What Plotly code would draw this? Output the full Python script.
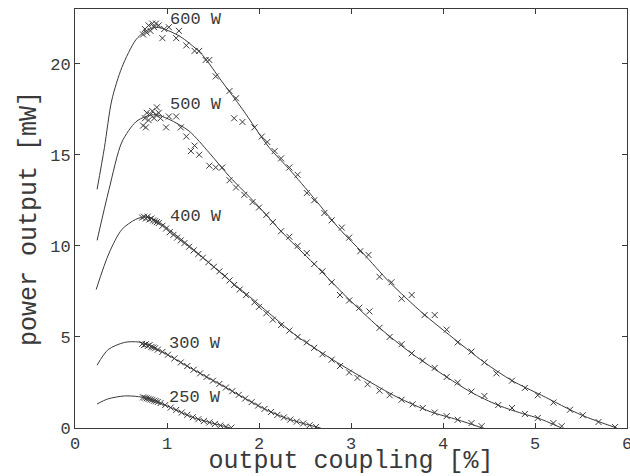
import plotly.graph_objects as go

# ---- model curves ----
c600_x = [0.24, 0.32, 0.40, 0.51, 0.66, 0.77, 0.88, 1.02, 1.17, 1.38, 1.60, 1.82, 2.11, 2.33, 2.60, 2.88, 3.13, 3.42, 3.78, 4.07, 4.45, 4.75, 5.07, 5.51, 5.89]
c600_y = [13.1, 15.4, 18.0, 19.8, 21.3, 21.8, 22.0, 21.8, 21.4, 20.5, 19.0, 17.5, 15.4, 14.2, 12.6, 10.9, 9.6, 8.0, 6.3, 5.1, 3.6, 2.6, 1.8, 0.7, 0.0]

c500_x = [0.24, 0.37, 0.51, 0.66, 0.77, 0.88, 1.02, 1.24, 1.46, 1.68, 1.97, 2.24, 2.60, 2.95, 3.31, 3.67, 4.04, 4.31, 4.60, 4.89, 5.03, 5.29]
c500_y = [10.3, 13.1, 15.7, 16.8, 17.1, 17.2, 16.95, 16.3, 15.1, 13.8, 12.3, 10.8, 9.0, 7.2, 5.5, 4.05, 2.8, 1.95, 1.25, 0.75, 0.55, 0.0]

c400_x = [0.23, 0.37, 0.51, 0.66, 0.77, 0.90, 1.02, 1.24, 1.46, 1.68, 1.90, 2.11, 2.41, 2.77, 3.13, 3.50, 3.86, 4.16, 4.43]
c400_y = [7.6, 9.6, 10.9, 11.45, 11.6, 11.35, 10.9, 10.0, 9.05, 8.1, 7.2, 6.3, 5.05, 3.85, 2.75, 1.7, 0.9, 0.45, 0.0]

c300_x = [0.24, 0.36, 0.54, 0.69, 0.80, 0.98, 1.20, 1.45, 1.63, 1.82, 2.04, 2.26, 2.48, 2.67]
c300_y = [3.45, 4.3, 4.7, 4.72, 4.55, 4.1, 3.45, 2.75, 2.25, 1.7, 1.1, 0.6, 0.25, 0.0]

c250_x = [0.24, 0.36, 0.54, 0.69, 0.84, 1.06, 1.27, 1.49, 1.69]
c250_y = [1.32, 1.6, 1.76, 1.72, 1.54, 1.08, 0.6, 0.27, 0.0]

m600_x = [0.74, 0.76, 0.78, 0.80, 0.82, 0.84, 0.86, 0.88, 0.91, 0.95, 0.97, 1.02, 1.10, 1.13, 1.21, 1.30, 1.35, 1.42, 1.46, 1.53, 1.68, 1.73, 1.75, 1.82, 1.95, 2.03, 2.09, 2.17, 2.24, 2.33, 2.42, 2.52, 2.60, 2.71, 2.79, 2.90, 2.98, 3.10, 3.19, 3.31, 3.44, 3.55, 3.66, 3.80, 3.91, 4.04, 4.16, 4.31, 4.45, 4.58, 4.75, 4.89, 5.03, 5.20, 5.38, 5.52, 5.69, 5.87]
m600_y = [21.6, 21.9, 21.7, 22.1, 21.8, 22.2, 22.0, 22.2, 22.1, 21.4, 21.9, 22.0, 21.4, 21.8, 21.0, 20.7, 20.7, 20.2, 20.2, 19.3, 18.5, 17.0, 18.1, 16.8, 16.5, 16.0, 15.7, 15.2, 14.8, 14.3, 13.9, 12.9, 12.5, 11.8, 11.4, 11.0, 10.45, 9.7, 9.5, 8.3, 8.0, 7.1, 7.3, 6.2, 6.2, 5.4, 4.7, 4.2, 3.6, 3.0, 2.6, 2.2, 1.8, 1.4, 1.0, 0.7, 0.33, 0.05]

m500_x = [0.74, 0.76, 0.77, 0.78, 0.80, 0.82, 0.84, 0.86, 0.88, 0.89, 0.91, 0.93, 0.99, 1.02, 1.10, 1.15, 1.21, 1.26, 1.30, 1.35, 1.46, 1.53, 1.60, 1.68, 1.75, 1.84, 1.93, 2.00, 2.08, 2.15, 2.24, 2.33, 2.42, 2.52, 2.60, 2.69, 2.79, 2.88, 2.98, 3.09, 3.20, 3.31, 3.42, 3.55, 3.66, 3.78, 3.91, 4.04, 4.16, 4.31, 4.45, 4.60, 4.75, 4.89, 5.03, 5.20, 5.29]
m500_y = [16.6, 17.0, 16.5, 17.3, 16.9, 17.2, 17.4, 17.0, 17.2, 17.6, 17.3, 17.0, 16.5, 17.1, 17.1, 16.5, 16.0, 15.2, 15.5, 15.0, 14.4, 14.3, 14.3, 13.6, 13.2, 12.8, 12.4, 12.1, 11.7, 11.3, 10.8, 10.5, 10.0, 9.6, 9.0, 8.6, 8.0, 7.3, 7.0, 6.6, 6.4, 5.5, 5.0, 4.6, 4.1, 3.7, 3.3, 2.8, 2.5, 2.0, 1.76, 1.26, 1.1, 0.77, 0.55, 0.27, 0.1]

m400_x = [0.73, 0.75, 0.77, 0.79, 0.81, 0.83, 0.85, 0.87, 0.89, 0.91, 0.95, 0.99, 1.03, 1.07, 1.11, 1.15, 1.19, 1.24, 1.29, 1.34, 1.39, 1.45, 1.51, 1.57, 1.63, 1.68, 1.73, 1.79, 1.86, 1.95, 2.00, 2.08, 2.15, 2.24, 2.33, 2.42, 2.52, 2.60, 2.69, 2.79, 2.88, 2.98, 3.07, 3.18, 3.31, 3.42, 3.55, 3.67, 3.78, 3.91, 4.04, 4.16, 4.31, 4.42]
m400_y = [11.55, 11.6, 11.5, 11.6, 11.45, 11.5, 11.4, 11.35, 11.3, 11.25, 11.1, 10.95, 10.75, 10.6, 10.45, 10.3, 10.15, 9.95, 9.75, 9.55, 9.35, 9.1, 8.85, 8.6, 8.35, 8.1, 7.85, 7.6, 7.3, 6.9, 6.65, 6.3, 5.95, 5.65, 5.35, 5.0, 4.7, 4.4, 4.05, 3.75, 3.4, 3.05, 2.75, 2.4, 2.05, 1.8, 1.55, 1.3, 1.1, 0.85, 0.65, 0.45, 0.27, 0.1]

m300_x = [0.73, 0.75, 0.77, 0.79, 0.81, 0.83, 0.85, 0.87, 0.90, 0.95, 1.01, 1.08, 1.15, 1.22, 1.29, 1.36, 1.43, 1.50, 1.57, 1.64, 1.71, 1.78, 1.85, 1.92, 1.99, 2.06, 2.13, 2.20, 2.27, 2.34, 2.41, 2.48, 2.55, 2.62]
m300_y = [4.62, 4.55, 4.6, 4.5, 4.55, 4.45, 4.42, 4.38, 4.3, 4.18, 4.02, 3.82, 3.6, 3.4, 3.2, 3.0, 2.8, 2.6, 2.42, 2.22, 2.02, 1.82, 1.62, 1.42, 1.23, 1.05, 0.88, 0.72, 0.58, 0.46, 0.35, 0.25, 0.15, 0.06]

m250_x = [0.74, 0.76, 0.78, 0.80, 0.82, 0.84, 0.86, 0.88, 0.90, 0.93, 0.98, 1.04, 1.10, 1.16, 1.22, 1.28, 1.34, 1.40, 1.46, 1.52, 1.58, 1.64, 1.70]
m250_y = [1.68, 1.66, 1.63, 1.60, 1.57, 1.54, 1.50, 1.47, 1.43, 1.37, 1.26, 1.12, 0.99, 0.85, 0.72, 0.59, 0.48, 0.38, 0.30, 0.22, 0.14, 0.07, 0.02]

labels = ["600 W", "500 W", "400 W", "300 W", "250 W"]
label_x = [1.32, 1.32, 1.31, 1.30, 1.30]
label_y = [22.4, 17.75, 11.6, 4.65, 1.65]

x_ticks = [0, 1, 2, 3, 4, 5, 6]
y_ticks = [0, 5, 10, 15, 20]

INK = "#3a3a3a"
FONT = "Liberation Mono"

fig = go.Figure()
curves = [(c600_x, c600_y), (c500_x, c500_y), (c400_x, c400_y), (c300_x, c300_y), (c250_x, c250_y)]
marks = [(m600_x, m600_y), (m500_x, m500_y), (m400_x, m400_y), (m300_x, m300_y), (m250_x, m250_y)]
for cx, cy in curves:
    fig.add_trace(go.Scatter(x=cx, y=cy, mode="lines",
                             line=dict(color=INK, width=1, shape="spline", smoothing=0.8),
                             showlegend=False, hoverinfo="skip"))
for mx, my in marks:
    fig.add_trace(go.Scatter(x=mx, y=my, mode="markers",
                             marker=dict(symbol="x-thin-open", size=6, color=INK,
                                         line=dict(color=INK, width=1)),
                             showlegend=False))

for t, lx, ly in zip(labels, label_x, label_y):
    fig.add_annotation(x=lx, y=ly, text=t, showarrow=False, xanchor="center", yanchor="middle",
                       font=dict(family=FONT, size=17, color=INK))

axis_common = dict(showline=True, linecolor=INK, linewidth=1, mirror="ticks", ticks="inside",
                   ticklen=5, tickcolor=INK, tickwidth=1, showgrid=False, zeroline=False,
                   automargin=False, ticklabeloverflow="allow",
                   tickfont=dict(family=FONT, size=17, color=INK))

fig.update_layout(
    width=630, height=476,
    margin=dict(l=75, r=3, t=9, b=48),
    paper_bgcolor="white", plot_bgcolor="white",
    xaxis=dict(range=[0, 6], tickvals=x_ticks, ticktext=[str(v) for v in x_ticks],
               title=dict(text="output coupling [%]", font=dict(family=FONT, size=25, color=INK), standoff=0),
               **axis_common),
    yaxis=dict(range=[0, 23], tickvals=y_ticks, ticktext=[str(v) for v in y_ticks],
               title=dict(text="power output [mW]", font=dict(family=FONT, size=25, color=INK), standoff=6),
               **axis_common),
)

fig.write_html("out.html", config={"displayModeBar": False},
               post_script="document.body.style.margin='0';document.body.style.overflow='hidden';")
